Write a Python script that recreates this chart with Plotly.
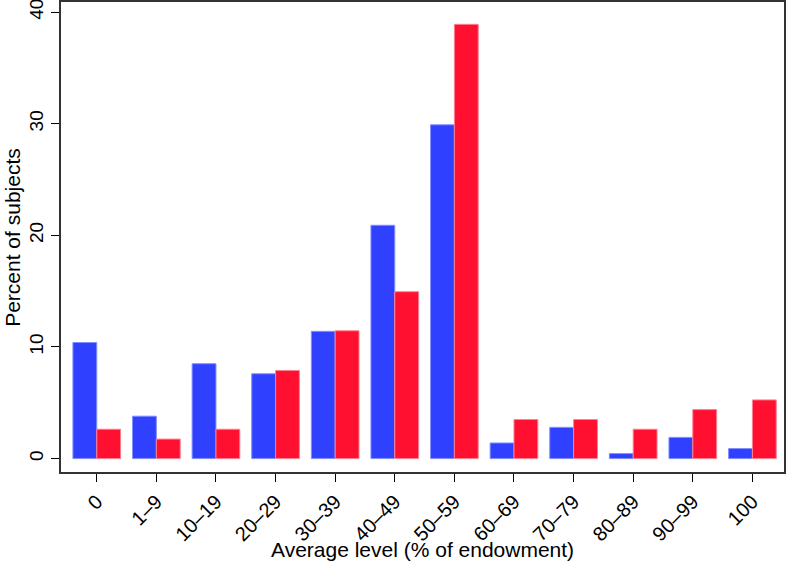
import plotly.graph_objects as go

categories = ['0', '1–9', '10–19', '20–29', '30–39', '40–49', '50–59',
              '60–69', '70–79', '80–89', '90–99', '100']
blue_pct = [10.4, 3.8, 8.5, 7.6, 11.4, 20.9, 29.9, 1.4, 2.8, 0.45, 1.9, 0.9]
red_pct = [2.63, 1.75, 2.63, 7.9, 11.45, 14.95, 38.9, 3.5, 3.5, 2.63, 4.39, 5.26]

x = list(range(len(categories)))

fig = go.Figure()
fig.add_trace(go.Bar(x=x, y=blue_pct, marker=dict(color='#3040FF', line=dict(color='#8090FF', width=1))))
fig.add_trace(go.Bar(x=x, y=red_pct, marker=dict(color='#FF1030', line=dict(color='#FF8090', width=1))))

font = 'Liberation Sans, Arial, sans-serif'
fig.update_layout(
    barmode='group',
    bargap=0.2,
    bargroupgap=0,
    showlegend=False,
    width=796,
    height=562,
    margin=dict(l=61, r=12, t=2, b=90),
    paper_bgcolor='white',
    plot_bgcolor='white',
    font=dict(family=font, size=20, color='black'),
)
fig.update_xaxes(
    range=[-0.6, 11.53],
    tickvals=x,
    ticktext=categories,
    tickangle=-45,
    ticks='outside',
    ticklen=8,
    tickcolor='black',
    showline=True,
    linecolor='#333',
    linewidth=2,
    mirror=True,
    showgrid=False,
    zeroline=False,
    automargin=False,
)
fig.update_yaxes(
    range=[-1.2, 40.9],
    tickvals=[0, 10, 20, 30, 40],
    tickangle=-90,
    tickfont=dict(size=19),
    ticklabeloverflow='allow',
    ticks='outside',
    ticklen=8,
    tickcolor='black',
    showline=True,
    linecolor='#333',
    linewidth=2,
    mirror=True,
    showgrid=False,
    zeroline=False,
    automargin=False,
)

# axis titles placed as annotations so the plot frame stays fixed
fig.add_annotation(text='Average level (% of endowment)', xref='paper', yref='paper',
                   x=0.5, y=-0.164, xanchor='center', yanchor='middle',
                   showarrow=False, font=dict(size=21))
fig.add_annotation(text='Percent of subjects', xref='paper', yref='paper',
                   x=-0.068, y=0.5, xanchor='center', yanchor='middle', textangle=-90,
                   showarrow=False, font=dict(size=21))

# drop the default page margin so the figure sits at the window's corner
fig.write_html('out.html', config={'displayModeBar': False},
               post_script="document.body.style.margin='0';")
